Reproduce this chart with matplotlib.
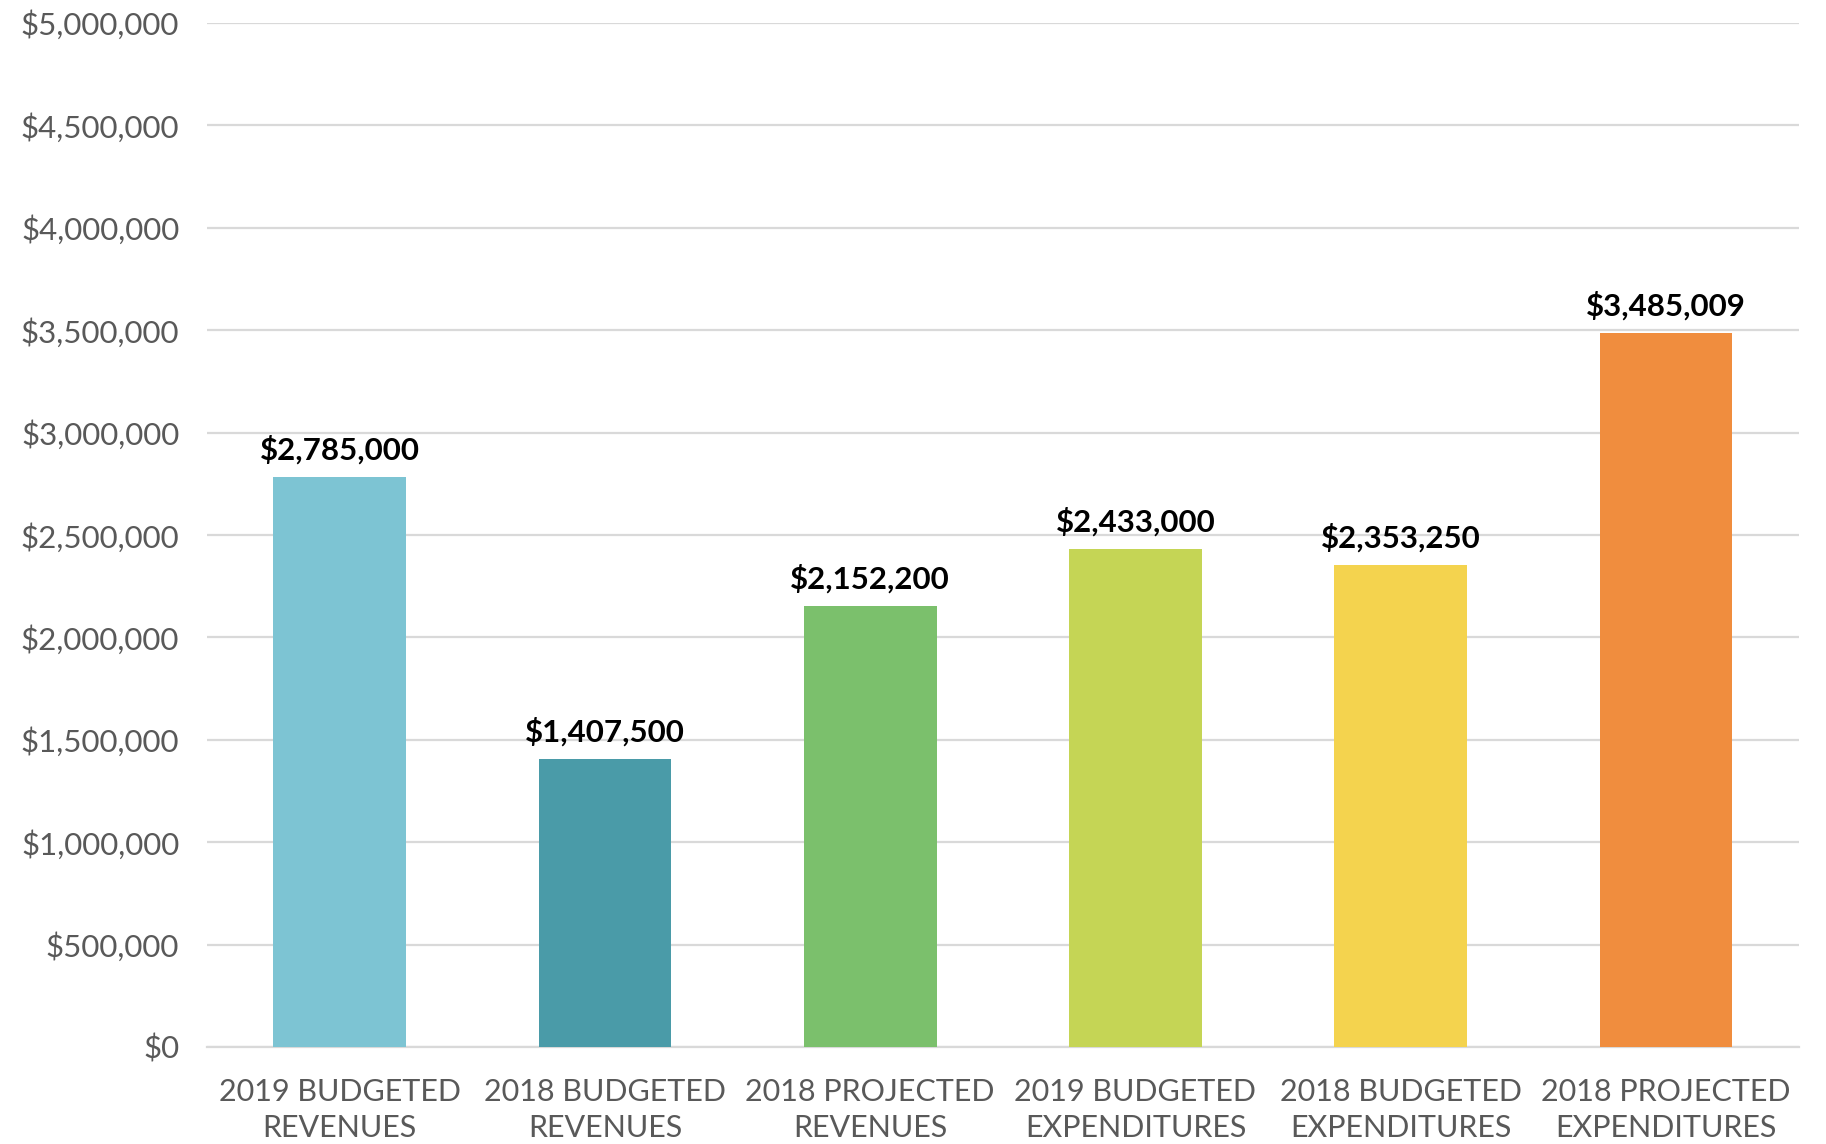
import matplotlib
matplotlib.use("Agg")
import matplotlib.pyplot as plt
from matplotlib.ticker import FuncFormatter

categories = ["2019 BUDGETED\nREVENUES", "2018 BUDGETED\nREVENUES", "2018 PROJECTED\nREVENUES",
              "2019 BUDGETED\nEXPENDITURES", "2018 BUDGETED\nEXPENDITURES", "2018 PROJECTED\nEXPENDITURES"]
values = [2785000, 1407500, 2152200, 2433000, 2353250, 3485009]
colors = ["#7DC4D3", "#4A9BA8", "#7BC06C", "#C5D555", "#F4D34E", "#F08D3E"]
y_ticks = list(range(0, 5000001, 500000))

plt.rcParams["font.family"] = ["Lato", "DejaVu Sans"]

fig = plt.figure(figsize=(18.26, 11.44), dpi=100)
ax = fig.add_axes([0.1134, 0.0848, 0.8716, 0.8952])

x = range(len(values))
bars = ax.bar(x, values, width=0.5, color=colors, zorder=3)
for b, v in zip(bars, values):
    ax.text(b.get_x() + b.get_width() / 2, v + 60000, f"${v:,.0f}", ha="center", va="bottom",
            fontsize=22.5, fontweight="bold", color="black")

ax.set_xlim(-0.5, len(values) - 0.5)
ax.set_ylim(0, 5000000)
ax.set_yticks(y_ticks)
ax.yaxis.set_major_formatter(FuncFormatter(lambda v, p: f"${v:,.0f}"))
ax.set_xticks(list(x))
ax.set_xticklabels(categories, linespacing=1.38)
ax.tick_params(axis="both", length=0, labelcolor="#595959")
ax.tick_params(axis="y", labelsize=22.5, pad=20)
ax.tick_params(axis="x", labelsize=22, pad=22)
ax.grid(axis="y", color="#D9D9D9", linewidth=1.6, zorder=0)
for s in ["top", "right", "left"]:
    ax.spines[s].set_visible(False)
ax.spines["bottom"].set_color("#D9D9D9")
ax.spines["bottom"].set_linewidth(1.6)

fig.savefig("out.png", dpi=100)
